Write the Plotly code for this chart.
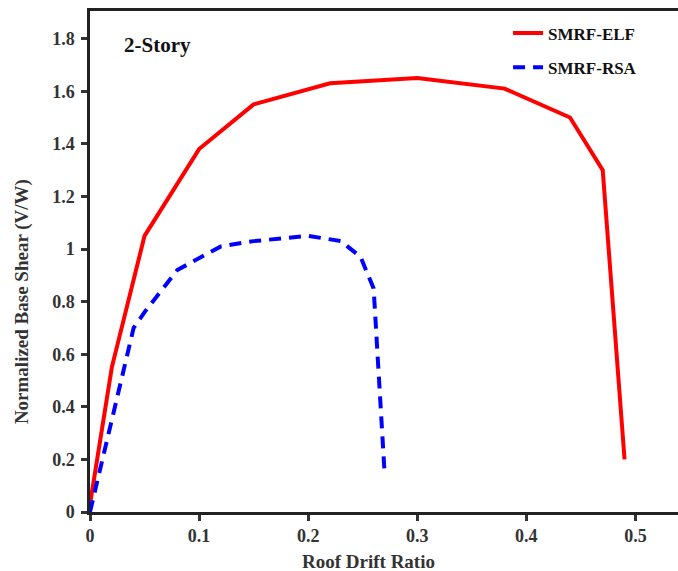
import plotly.graph_objects as go

# Data
elf_x = [0.0, 0.02, 0.05, 0.10, 0.15, 0.22, 0.30, 0.38, 0.44, 0.47, 0.49]
elf_y = [0.03, 0.55, 1.05, 1.38, 1.55, 1.63, 1.65, 1.61, 1.50, 1.30, 0.20]

rsa_x = [0.0, 0.04, 0.05, 0.08, 0.12, 0.15, 0.20, 0.23, 0.248, 0.26, 0.27]
rsa_y = [0.0, 0.70, 0.76, 0.92, 1.01, 1.03, 1.05, 1.03, 0.97, 0.85, 0.15]

x_ticks = [0, 0.1, 0.2, 0.3, 0.4, 0.5]
y_ticks = [0, 0.2, 0.4, 0.6, 0.8, 1.0, 1.2, 1.4, 1.6, 1.8]

FONT = "Liberation Serif"

fig = go.Figure()
fig.add_trace(go.Scatter(x=elf_x, y=elf_y, mode="lines", name="SMRF-ELF",
                         legendgroup="a",
                         line=dict(color="#ff0000", width=4)))
fig.add_trace(go.Scatter(x=rsa_x, y=rsa_y, mode="lines", name="SMRF-RSA",
                         legendgroup="b",
                         line=dict(color="#0000ff", width=4, dash="12px,8px")))

axis_common = dict(
    showgrid=False, zeroline=False,
    showline=True, linecolor="#222", linewidth=2.5,
    ticks="outside", ticklen=6, tickwidth=2.5, tickcolor="#333",
    tickfont=dict(family=FONT, size=18, color="#333", weight="bold"),
)

fig.update_xaxes(range=[0, 0.539], tickvals=x_ticks, mirror=True, **axis_common)
fig.update_yaxes(range=[0, 1.905], tickvals=y_ticks, ticklabelstandoff=3, **axis_common)

fig.add_annotation(text="2-Story", xref="paper", yref="paper", x=0.114, y=0.932,
                   xanchor="center", yanchor="middle",
                   showarrow=False, font=dict(family=FONT, size=21, color="#111", weight="bold"))
fig.add_annotation(text="Roof Drift Ratio", xref="paper", yref="paper", x=0.473, y=-0.0998,
                   xanchor="center", yanchor="middle",
                   showarrow=False, font=dict(family=FONT, size=19, color="#333", weight="bold"))
fig.add_annotation(text="Normalized Base Shear (V/W)", xref="paper", yref="paper",
                   x=-0.1156, y=0.419, textangle=-90,
                   xanchor="center", yanchor="middle",
                   showarrow=False, font=dict(family=FONT, size=19, color="#333", weight="bold"))

fig.update_layout(
    width=678, height=571,
    margin=dict(l=90, r=0, t=11, b=59),
    plot_bgcolor="white", paper_bgcolor="white",
    showlegend=True,
    legend=dict(x=0.711, y=0.991, xanchor="left", yanchor="top",
                bgcolor="rgba(0,0,0,0)", tracegroupgap=9,
                font=dict(family=FONT, size=17, color="#111", weight="bold")),
)

fig.write_html("out.html", config={"displayModeBar": False},
               post_script="document.body.style.margin='0';document.body.style.overflow='hidden';")
